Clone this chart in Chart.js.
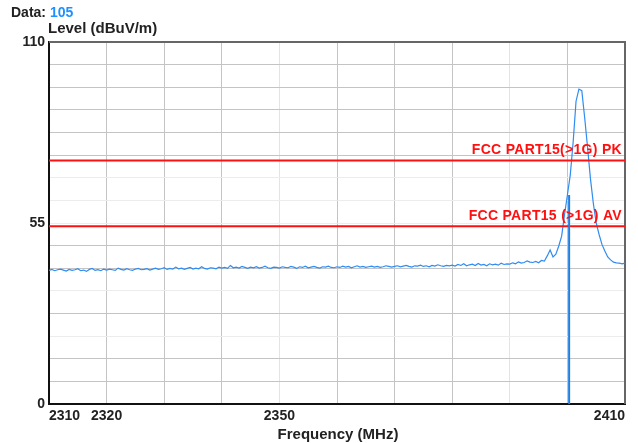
<!DOCTYPE html>
<html>
<head>
<meta charset="utf-8">
<script src="https://cdn.jsdelivr.net/npm/chart.js@4"></script>
<style>
html,body{margin:0;padding:0;background:#fff;}
#wrap{position:relative;width:638px;height:443px;}
</style>
</head>
<body>
<div id="wrap"><canvas id="c" width="638" height="443"></canvas></div>
<script>
// ---- data ----
const freqStart = 2310;      // MHz
const freqStep = 0.5;        // MHz between trace points
const levels = [
  40.6,40.9,40.5,40.8,41.0,40.7,40.4,40.9,40.6,40.8,41.1,40.5,40.7,40.3,40.9,41.2,40.6,40.8,40.5,41.0,
  40.7,41.0,40.8,40.6,41.3,40.9,40.7,41.1,40.8,40.6,41.0,41.2,40.8,40.9,41.1,40.7,41.0,41.3,40.9,41.1,
  41.4,40.9,41.2,41.0,41.6,41.1,41.3,40.9,41.2,41.5,41.0,41.3,41.1,41.7,41.2,41.0,41.4,41.3,41.1,41.6,
  41.3,41.5,41.2,42.1,41.4,41.6,41.3,41.8,41.5,41.2,41.6,41.4,41.7,41.3,41.5,41.9,41.4,41.2,41.6,41.5,
  41.3,41.7,41.5,41.4,41.8,41.6,41.2,41.7,41.5,41.9,41.4,41.6,41.8,41.5,41.3,41.7,41.6,41.9,41.5,41.4,
  41.7,41.5,41.9,41.6,41.8,41.4,41.7,42.0,41.6,41.8,41.5,41.7,41.9,41.6,41.8,41.5,41.7,42.0,41.8,41.6,
  41.8,42.0,41.7,41.9,42.1,41.8,41.6,42.0,41.9,42.2,41.8,42.0,41.7,42.1,41.9,42.3,42.0,41.8,42.1,42.0,
  42.2,41.9,42.4,42.1,42.6,42.0,42.3,42.5,42.1,42.7,42.2,42.4,42.0,42.6,42.3,42.5,42.2,42.8,42.4,42.6,
  42.5,42.9,42.6,43.2,42.8,43.0,43.5,43.1,
  43.0,43.3,42.9,43.6,43.4,45.0,46.8,44.7,45.5,48.0,51.0,57.5,63.5,69.6,79.6,92.0,95.7,95.2,87.0,78.0,
  68.5,61.0,55.0,51.5,48.5,46.5,44.7,43.8,43.1,42.9,42.8,42.6,42.8
];
const limitNames = ["FCC PART15(>1G) PK", "FCC PART15 (>1G) AV"];
const limitValues = [74, 54];
const markerFreq = 2400.3;
const markerLevel = 63.5;
const markerLabel = "105";
const xMin = 2310, xMax = 2410, xGridStep = 10;
const xTickLabels = [2310, 2320, 2350, 2410];
const yMin = 0, yMax = 110, yDivisions = 16;
const yTickLabels = [0, 55, 110];

// ---- build ----
const tracePts = levels.map((v, i) => ({x: freqStart + i * freqStep, y: v}));
const limitSets = limitValues.map((v, i) => ({
  label: limitNames[i],
  data: [{x: xMin, y: v}, {x: xMax, y: v}],
  borderColor: '#ff1010', borderWidth: 2, pointRadius: 0, fill: false, order: 1
}));
const faintY = [3, 5, 8, 9, 10];
const faintX = [2350, 2390];
const FONT = '"Liberation Sans", Arial, sans-serif';

const overlay = {
  id: 'overlay',
  beforeDatasetsDraw(chart) {
    const {ctx, chartArea: a} = chart;
    ctx.save();
    ctx.strokeStyle = '#666';
    ctx.lineWidth = 2;
    ctx.beginPath();
    ctx.moveTo(a.left, a.top); ctx.lineTo(a.right, a.top); ctx.lineTo(a.right, a.bottom);
    ctx.stroke();
    ctx.restore();
  },
  afterDraw(chart) {
    const {ctx, chartArea: a, scales} = chart;
    ctx.save();
    ctx.textBaseline = 'alphabetic';
    ctx.font = 'bold 14px ' + FONT;
    ctx.fillStyle = '#222';
    ctx.textAlign = 'left';
    ctx.fillText('Data: ', 11, 17);
    const w = ctx.measureText('Data: ').width;
    ctx.fillStyle = '#1e90ff';
    ctx.fillText(markerLabel, 11 + w, 17);
    ctx.fillStyle = '#222';
    ctx.font = 'bold 15px ' + FONT;
    ctx.fillText('Level (dBuV/m)', 48, 33);
    ctx.textAlign = 'center';
    ctx.fillText('Frequency (MHz)', 338, 439);
    ctx.font = 'bold 14px ' + FONT;
    if ('letterSpacing' in ctx) ctx.letterSpacing = '0.3px';
    ctx.fillStyle = '#ff1010';
    ctx.textAlign = 'right';
    limitValues.forEach((v, i) => {
      ctx.fillText(limitNames[i], a.right - 3, scales.y.getPixelForValue(v) - 6);
    });
    ctx.restore();
  }
};

new Chart(document.getElementById('c'), {
  type: 'line',
  data: {
    datasets: [
      {
        label: 'trace', data: tracePts, borderColor: '#2f8cf0', borderWidth: 1.2,
        pointRadius: 0, fill: false, tension: 0, order: 2
      },
      ...limitSets,
      {
        label: 'marker', data: [{x: markerFreq, y: yMin}, {x: markerFreq, y: markerLevel}],
        borderColor: '#1a7fe8', borderWidth: 2, pointRadius: 0, fill: false, order: 0
      }
    ]
  },
  plugins: [overlay],
  options: {
    responsive: false, animation: false,
    layout: {padding: {top: 42, right: 13, left: 0, bottom: 0}},
    plugins: {legend: {display: false}, tooltip: {enabled: false}},
    scales: {
      x: {
        type: 'linear', min: xMin, max: xMax,
        afterBuildTicks(s) {
          const t = [];
          for (let v = xMin; v <= xMax; v += xGridStep) t.push({value: v});
          s.ticks = t;
        },
        afterFit(s) { s.height = 39; },
        grid: {
          drawTicks: false,
          color: c => faintX.includes(c.tick && c.tick.value) ? '#e4e4e4' : '#c4c4c4',
          lineWidth: 1
        },
        border: {color: '#111', width: 2},
        ticks: {
          autoSkip: false, maxRotation: 0, padding: 4, align: 'inner',
          color: '#222', font: {family: FONT, size: 14, weight: 'bold'},
          callback: v => xTickLabels.includes(v) ? String(v) : ''
        }
      },
      y: {
        type: 'linear', min: yMin, max: yMax,
        afterBuildTicks(s) {
          const t = [];
          for (let i = 0; i <= yDivisions; i++) t.push({value: yMin + (yMax - yMin) * i / yDivisions});
          s.ticks = t;
        },
        afterFit(s) { s.width = 49; },
        grid: {
          drawTicks: false,
          color: c => faintY.includes(c.index) ? '#ececec' : '#c4c4c4',
          lineWidth: 1
        },
        border: {color: '#111', width: 2},
        ticks: {
          autoSkip: false, padding: 4,
          color: '#222', font: {family: FONT, size: 14, weight: 'bold'},
          callback: v => yTickLabels.includes(v) ? String(v) : ''
        }
      }
    }
  }
});
</script>
</body>
</html>
